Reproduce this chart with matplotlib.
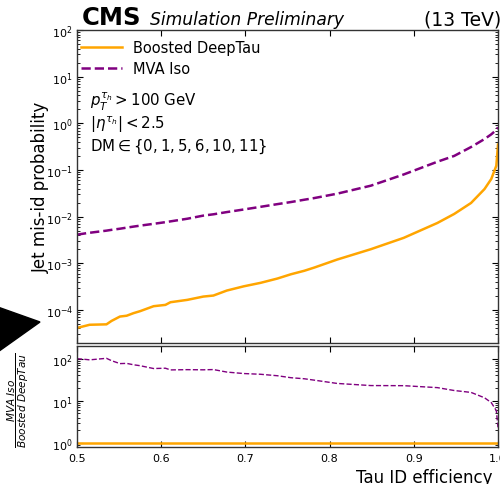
import numpy as np
import matplotlib
matplotlib.use('Agg')
import matplotlib.pyplot as plt
from matplotlib.patches import Polygon
from matplotlib.ticker import LogLocator, NullFormatter

# ---- data ----
eff = [0.500, 0.511, 0.515, 0.535, 0.541, 0.551, 0.559, 0.567, 0.575, 0.591,
       0.605, 0.611, 0.631, 0.650, 0.662, 0.678, 0.698, 0.718, 0.738, 0.754,
       0.770, 0.782, 0.809, 0.849, 0.888, 0.928, 0.948, 0.968, 0.984, 0.992,
       0.998, 1.000]
deeptau = [4.1e-5, 4.6e-5, 4.8e-5, 4.9e-5, 5.8e-5, 7.2e-5, 7.5e-5, 8.5e-5, 9.4e-5, 1.2e-4,
           1.28e-4, 1.46e-4, 1.64e-4, 1.93e-4, 2.03e-4, 2.6e-4, 3.2e-4, 3.8e-4, 4.7e-4, 5.8e-4,
           6.9e-4, 8.1e-4, 1.2e-3, 2.0e-3, 3.5e-3, 7.3e-3, 1.14e-2, 1.96e-2, 3.9e-2, 6.4e-2,
           1.23e-1, 3.5e-1]
mva = [4.1e-3, 4.4e-3, 4.5e-3, 5.0e-3, 5.2e-3, 5.5e-3, 5.8e-3, 6.1e-3, 6.4e-3, 7.0e-3,
       7.6e-3, 7.9e-3, 9.0e-3, 1.05e-2, 1.12e-2, 1.25e-2, 1.42e-2, 1.62e-2, 1.85e-2, 2.05e-2,
       2.3e-2, 2.5e-2, 3.1e-2, 4.6e-2, 8.0e-2, 0.15, 0.20, 0.31, 0.46, 0.58,
       0.72, 0.82]
labels = ["Boosted DeepTau", "MVA Iso"]
colors = ["#FFA500", "#800080"]

eff_a = np.array(eff)
deep_a = np.array(deeptau)
mva_a = np.array(mva)
ratio_mva = mva_a / deep_a
ratio_deep = deep_a / deep_a

W, H = 500, 485
fig = plt.figure(figsize=(W / 100, H / 100), dpi=100)

def px_axes(x0, y0, x1, y1):
    return [x0 / W, 1 - y1 / H, (x1 - x0) / W, (y1 - y0) / H]

ax1 = fig.add_axes(px_axes(77, 31, 498, 343.5))
ax2 = fig.add_axes(px_axes(77, 347, 498, 448), sharex=ax1)

ax1.plot(eff_a, deep_a, color=colors[0], lw=1.8, label=labels[0])
ax1.plot(eff_a, mva_a, color=colors[1], lw=1.8, ls='--', label=labels[1])
ax1.set_yscale('log')
ax1.set_ylim(2e-5, 1e2)
ax1.set_xlim(0.5, 1.0)

ax2.plot(eff_a, ratio_deep, color=colors[0], lw=1.8)
ax2.plot(eff_a, ratio_mva, color=colors[1], lw=1.0, ls='--')
ax2.set_yscale('log')
ax2.set_ylim(0.8, 200)

for ax in (ax1, ax2):
    ax.tick_params(which='both', direction='in', top=True, right=True, labelsize=8)
    ax.tick_params(which='major', length=4.5, width=0.8, pad=3)
    ax.tick_params(which='minor', length=2.2, width=0.6)
    ax.yaxis.set_major_locator(LogLocator(base=10, numticks=20))
    ax.yaxis.set_minor_locator(LogLocator(base=10, subs=np.arange(2, 10), numticks=20))
    ax.yaxis.set_minor_formatter(NullFormatter())
    for s in ax.spines.values():
        s.set_linewidth(1.0)
        s.set_color('#333333')
ax1.tick_params(axis='x', labelbottom=False)
ax2.set_xticks([0.5, 0.6, 0.7, 0.8, 0.9, 1.0])
ax2.tick_params(axis='x', pad=4)

ax1.set_ylabel("Jet mis-id probability", fontsize=12)
ax1.yaxis.set_label_coords(-0.064, 0.5)

fig.text(18 / W, 1 - 400 / H, r'$\dfrac{MVA\ Iso}{Boosted\ DeepTau}$', fontsize=7.6,
         rotation=90, ha='center', va='center')
fig.text(492 / W, 1 - 478 / H, "Tau ID efficiency", fontsize=12, ha='right', va='center')

leg = ax1.legend(loc='upper left', bbox_to_anchor=(0.0095, 0.968), frameon=False,
                 fontsize=10.5, handlelength=2.8, handletextpad=0.75,
                 labelspacing=0.4, borderpad=0, borderaxespad=0)

tx = (90 - 77) / 421
ax1.text(tx, 0.773, r'$p_T^{\tau_h} > 100$ GeV', transform=ax1.transAxes, fontsize=10.8, va='center')
ax1.text(tx, 0.700, r'$|\eta^{\tau_h}| < 2.5$', transform=ax1.transAxes, fontsize=10.8, va='center')
ax1.text(tx, 0.629, r'$\mathrm{DM} \in \{0, 1, 5, 6, 10, 11\}$', transform=ax1.transAxes, fontsize=10.8, va='center')

fig.text(82 / W, 1 - 25 / H, "CMS", fontsize=17.5, fontweight='bold', va='baseline')
fig.text(150 / W, 1 - 25 / H, "Simulation Preliminary", fontsize=12.3, style='italic', va='baseline')
fig.text(501 / W, 1 - 25 / H, "(13 TeV)", fontsize=13.5, ha='right', va='baseline')

tri = Polygon([[-5 / W, 1 - 307 / H], [40 / W, 1 - 323 / H], [-5 / W, 1 - 355 / H]],
              closed=True, transform=fig.transFigure, color='black', clip_on=False)
fig.patches.append(tri)

fig.savefig('out.png', dpi=100)
